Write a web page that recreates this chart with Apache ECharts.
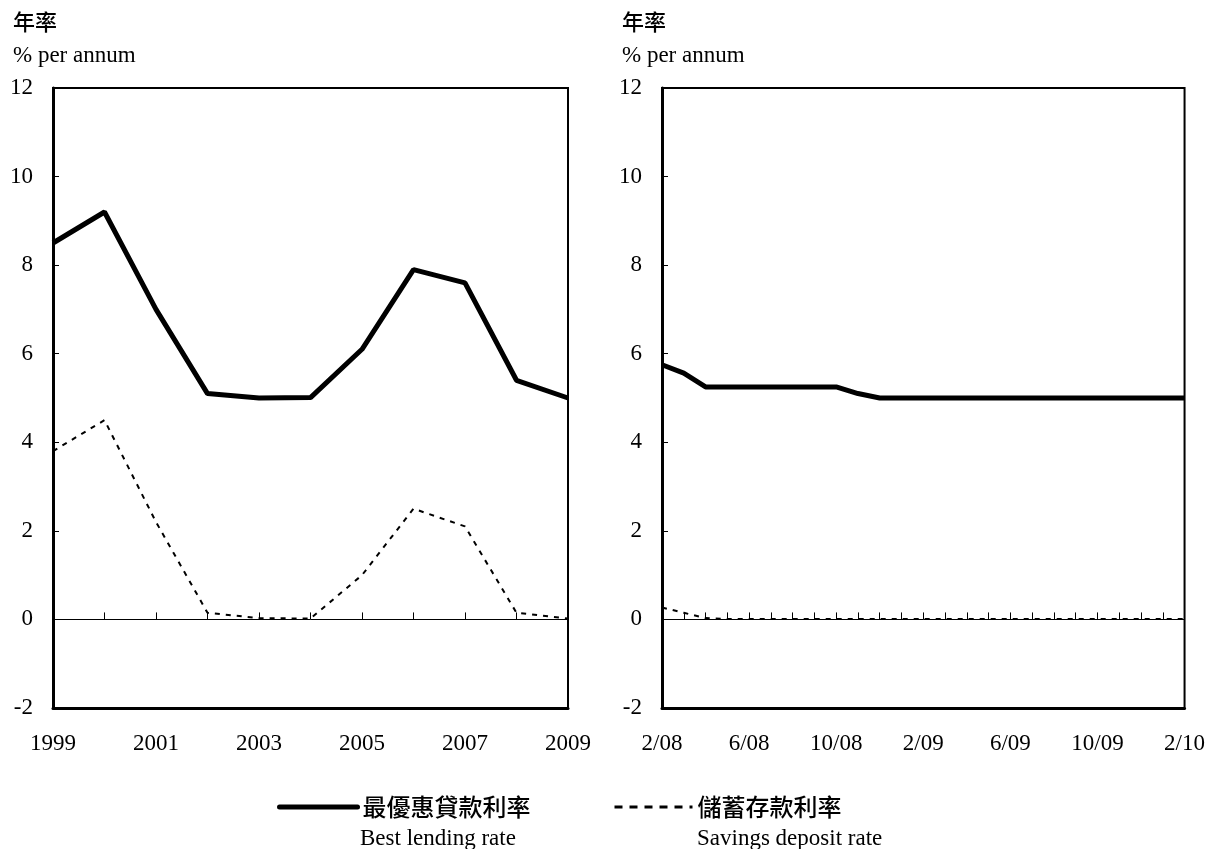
<!DOCTYPE html>
<html>
<head>
<meta charset="utf-8">
<script src="https://cdn.jsdelivr.net/npm/echarts@6/dist/echarts.min.js"></script>
<style>
html,body{margin:0;padding:0;background:#fff;}
#chart{width:1208px;height:849px;}
</style>
</head>
<body>
<div id="chart"></div>
<script>
// ---- Data ----
const years = ['1999','2000','2001','2002','2003','2004','2005','2006','2007','2008','2009'];
const bestLendingAnnual = [8.5, 9.2, 7.0, 5.1, 5.0, 5.01, 6.1, 7.9, 7.6, 5.4, 5.0];
const savingsAnnual = [3.8, 4.5, 2.2, 0.15, 0.03, 0.02, 1.0, 2.5, 2.1, 0.15, 0.02];

const months = ['2/08','3/08','4/08','5/08','6/08','7/08','8/08','9/08','10/08','11/08','12/08','1/09',
                '2/09','3/09','4/09','5/09','6/09','7/09','8/09','9/09','10/09','11/09','12/09','1/10','2/10'];
const bestLendingMonthly = [5.75, 5.56, 5.25, 5.25, 5.25, 5.25, 5.25, 5.25, 5.25, 5.1, 5.0, 5.0,
                            5.0, 5.0, 5.0, 5.0, 5.0, 5.0, 5.0, 5.0, 5.0, 5.0, 5.0, 5.0, 5.0];
const savingsMonthly = [0.27, 0.15, 0.03, 0.01, 0.01, 0.01, 0.01, 0.01, 0.01, 0.01, 0.01, 0.01,
                        0.01, 0.01, 0.01, 0.01, 0.01, 0.01, 0.01, 0.01, 0.01, 0.01, 0.01, 0.01, 0.01];

const yTicks = {min: -2, max: 12, interval: 2};
const seriesNames = ['最優惠貸款利率', '儲蓄存款利率'];
const seriesNamesEn = ['Best lending rate', 'Savings deposit rate'];
const unitZh = '年率';
const unitEn = '% per annum';

// ---- Styles ----
const serif = '"Liberation Serif", "Times New Roman", serif';
const cjk = '"Noto Sans CJK TC", "Noto Sans", sans-serif';
const FS = 23;

function xAxes(gridIndex, cats, labelInterval) {
  return [
    { // labelled axis at bottom of frame
      type: 'category', gridIndex, data: cats, boundaryGap: false, position: 'bottom',
      axisLine: {show: true, onZero: false, lineStyle: {color: '#000', width: 3}},
      axisTick: {show: false},
      axisLabel: {interval: labelInterval, color: '#000', fontFamily: serif, fontSize: FS, margin: 24,
                  showMinLabel: true, showMaxLabel: true},
      splitLine: {show: false}
    },
    { // axis on zero line with ticks
      type: 'category', gridIndex, data: cats, boundaryGap: false, position: 'bottom',
      axisLine: {show: true, onZero: true, onZeroAxisIndex: gridIndex, lineStyle: {color: '#000', width: 1}},
      axisTick: {show: true, inside: true, interval: 0, length: 7, lineStyle: {color: '#000', width: 1}},
      axisLabel: {show: false},
      splitLine: {show: false}
    }
  ];
}
function yAxis(gridIndex) {
  return {
    type: 'value', gridIndex, min: yTicks.min, max: yTicks.max, interval: yTicks.interval,
    axisLine: {show: true, lineStyle: {color: '#000', width: 3}},
    axisTick: {show: true, inside: true, length: 6, lineStyle: {color: '#000', width: 1}},
    axisLabel: {color: '#000', fontFamily: serif, fontSize: FS, margin: 20},
    splitLine: {show: false}
  };
}

const solidStyle = {color: '#000', width: 5, type: 'solid'};
const dashStyle = {color: '#000', width: 2, type: [5, 6]};

const chart = echarts.init(document.getElementById('chart'), null, {renderer: 'canvas'});
const legendBase = {
  padding: 0, itemWidth: 78, itemHeight: 14, itemGap: 0, top: 795,
  itemStyle: {opacity: 0},
  textStyle: {fontFamily: cjk, fontSize: 24, fontWeight: 500, color: '#000'}
};
const option = {
  backgroundColor: '#fff',
  animation: false,
  grid: [
    {left: 53, right: 640, top: 88, bottom: 141, show: true, borderColor: '#000', borderWidth: 2, backgroundColor: 'transparent'},
    {left: 662, right: 22, top: 88, bottom: 141, show: true, borderColor: '#000', borderWidth: 2, backgroundColor: 'transparent'}
  ],
  xAxis: [...xAxes(0, years, 1), ...xAxes(1, months, 3)],
  yAxis: [yAxis(0), yAxis(1)],
  legend: [
    Object.assign({}, legendBase, {data: [seriesNames[0]], left: 277,
      lineStyle: {width: 5, color: '#000', type: 'solid', cap: 'round'}}),
    Object.assign({}, legendBase, {data: [seriesNames[1]], left: 613,
      lineStyle: {width: 3, color: '#000', type: [8, 7]}})
  ],
  graphic: [
    {type: 'text', left: 13, top: 11, style: {text: unitZh, font: '500 22px ' + cjk, fill: '#000'}},
    {type: 'text', left: 13, top: 44, style: {text: unitEn, font: FS + 'px ' + serif, fill: '#000'}},
    {type: 'text', left: 622, top: 11, style: {text: unitZh, font: '500 22px ' + cjk, fill: '#000'}},
    {type: 'text', left: 622, top: 44, style: {text: unitEn, font: FS + 'px ' + serif, fill: '#000'}},
    {type: 'text', left: 360, top: 827, style: {text: seriesNamesEn[0], font: FS + 'px ' + serif, fill: '#000'}},
    {type: 'text', left: 697, top: 827, style: {text: seriesNamesEn[1], font: FS + 'px ' + serif, fill: '#000'}}
  ],
  series: [
    {name: seriesNames[0], type: 'line', xAxisIndex: 0, yAxisIndex: 0, data: bestLendingAnnual,
     symbol: 'none', lineStyle: solidStyle, itemStyle: {color: '#000'}, z: 5},
    {name: seriesNames[1], type: 'line', xAxisIndex: 0, yAxisIndex: 0, data: savingsAnnual,
     symbol: 'none', lineStyle: dashStyle, itemStyle: {color: '#000'}, z: 5},
    {name: seriesNames[0], type: 'line', xAxisIndex: 2, yAxisIndex: 1, data: bestLendingMonthly,
     symbol: 'none', lineStyle: solidStyle, itemStyle: {color: '#000'}, z: 5},
    {name: seriesNames[1], type: 'line', xAxisIndex: 2, yAxisIndex: 1, data: savingsMonthly,
     symbol: 'none', lineStyle: dashStyle, itemStyle: {color: '#000'}, z: 5}
  ]
};
chart.setOption(option);
</script>
</body>
</html>
